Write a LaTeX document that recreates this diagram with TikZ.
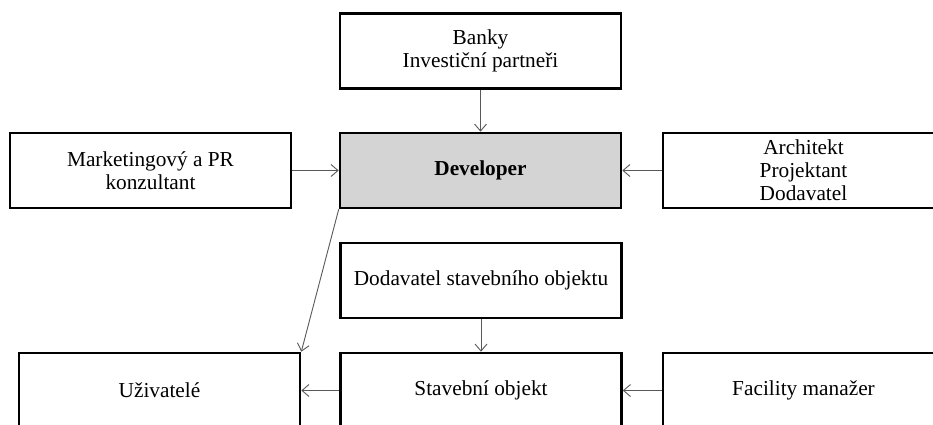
\documentclass[tikz,border=0pt]{standalone}
\usepackage{fontspec}
\setmainfont{Liberation Serif}
\usetikzlibrary{arrows.meta,positioning}

\begin{document}
\begin{tikzpicture}[
    x=1pt, y=-1pt,
    >={Straight Barb[length=7pt,width=12pt]},
    box/.style={draw, line width=2.6pt, minimum width=281pt, minimum height=75pt,
      align=center, inner sep=0pt, font=\fontsize{21.3}{23}\selectfont},
    devbox/.style={box, fill=black!17, font=\fontsize{21.3}{23}\selectfont\bfseries},
    wire/.style={draw=black!65, line width=0.9pt},
  ]
  \clip (0,0) rectangle (933,425);
  \fill[white] (0,0) rectangle (933,425);

  % ---------------- top row
  \node[box] (banky) at (480.5,51) {Banky\\Investiční partneři};
  \node[devbox] (dev) at (480.5,170.5) {Developer};
  \node[box] (mkt) at (150.5,170.5) {Marketingový a PR\\konzultant};
  \node[box] (arch) at (803.5,170.5) {Architekt\\Projektant\\Dodavatel};

  % ---------------- building
  \node[box] (dod) at (481,280.5) {Dodavatel stavebního objektu};
  \node[box] (stav) at (481,390.5) {Stavební objekt};
  \node[box] (uziv) at (159.5,390.5) {Uživatelé};
  \node[box] (fac) at (803.5,390.5) {Facility manažer};

  % ---------------- wiring
  \draw[->,wire] (banky) -- (dev);
  \draw[->,wire] (mkt) -- (dev);
  \draw[->,wire] (arch) -- (dev);
  \draw[->,wire] (dod) -- (stav);
  \draw[->,wire] (stav) -- (uziv);
  \draw[->,wire] (fac) -- (stav);
  \draw[->,wire] (dev.south west) -- (uziv.north east);
\end{tikzpicture}
\end{document}
